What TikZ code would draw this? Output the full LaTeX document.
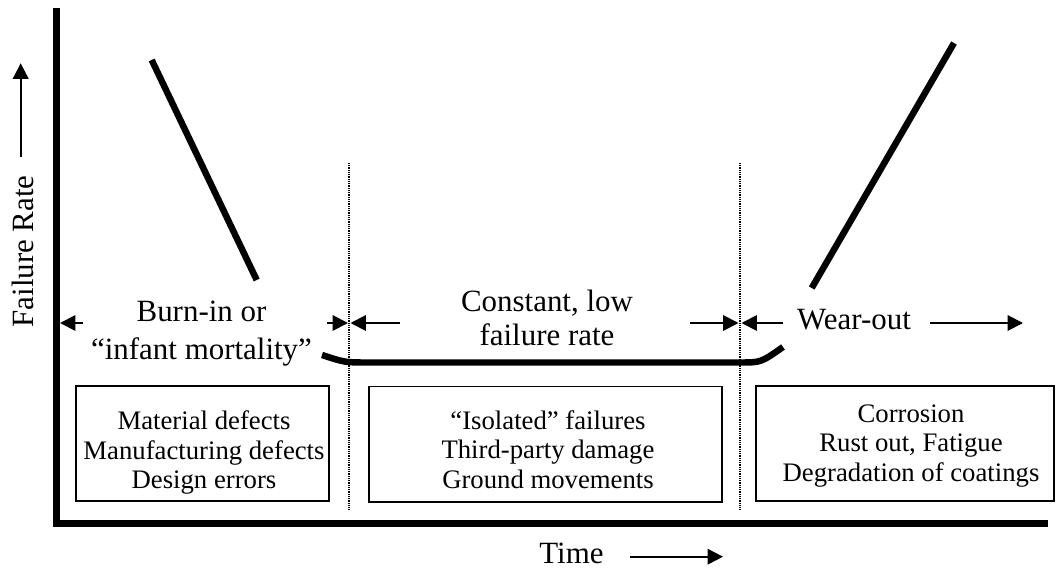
\documentclass[tikz,border=0pt]{standalone}
\usepackage{fontspec}
\setmainfont{Liberation Serif}
\usepackage{tikz}
\usetikzlibrary{arrows.meta, positioning}

\begin{document}
\begin{tikzpicture}[
  x=0.025cm, y=-0.025cm,
  phase/.style={font=\fontsize{22}{27}\selectfont, align=center, inner sep=0pt},
  causebox/.style={rectangle, draw, line width=1.4pt, minimum width=#1, minimum height=2.875cm},
  causetext/.style={font=\fontsize{19}{21}\selectfont, align=center, inner sep=0pt},
  arrow/.style={-{Triangle[length=11pt, width=11pt]}, line width=1.4pt},
  curve/.style={line width=4.6pt},
  divider/.style={line width=0.8pt, dash pattern=on 0.8pt off 0.8pt}
]
  \useasboundingbox (0,0) rectangle (1056,569);

  % axes
  \draw[line width=4.7pt] (56.5,8) -- (56.5,523.5) -- (1048,523.5);

  % phase borders
  \coordinate (d1t) at (349,163);
  \coordinate (d1b) at (349,510);
  \coordinate (d2t) at (740,163);
  \coordinate (d2b) at (740,510);
  \draw[divider] (d1t) -- (d1b);
  \draw[divider] (d2t) -- (d2b);

  % bathtub curve
  \draw[curve] (151.7,60) -- (256.7,280);
  \draw[curve] (954,43) -- (811.7,288);
  \draw[curve] (322,355) .. controls (345,362.5) .. (368,362.5) -- (740,362.5)
    .. controls (761,362.5) .. (783,347);

  % phase labels
  \node[phase] (burn) at (201.5,334) {Burn-in or\\“infant mortality”};
  \node[phase, font=\fontsize{22}{23.7}\selectfont] (const) at (547,317.8) {Constant, low\\failure rate};
  \node[phase, anchor=base] (wear) at (854,330) {Wear-out};
  \node[phase, anchor=base] (time) at (571.5,563) {Time};
  \node[phase, anchor=base, rotate=90] (rate) at (33,251.5) {Failure Rate};

  % phase arrows
  \coordinate (b0) at (83,323);
  \coordinate (b1) at (60,323);
  \coordinate (b2) at (327,323);
  \coordinate (b3) at (348,323);
  \coordinate (c0) at (400,323);
  \coordinate (c1) at (350.5,323);
  \coordinate (c2) at (690,323);
  \coordinate (c3) at (738.5,323);
  \coordinate (w0) at (783,323);
  \coordinate (w1) at (741.5,323);
  \coordinate (w2) at (930,323);
  \coordinate (w3) at (1023,323);
  \draw[arrow] (b0) -- (b1);
  \draw[arrow] (b2) -- (b3);
  \draw[arrow] (c0) -- (c1);
  \draw[arrow] (c2) -- (c3);
  \draw[arrow] (w0) -- (w1);
  \draw[arrow] (w2) -- (w3);

  % axis arrows
  \coordinate (t0) at (630,556.7);
  \coordinate (t1) at (723,556.7);
  \coordinate (r0) at (20.7,156.7);
  \coordinate (r1) at (20.7,63.3);
  \draw[arrow] (t0) -- (t1);
  \draw[arrow] (r0) -- (r1);

  % failure causes
  \node[causebox=6.325cm] (m1) at (202.5,443.5) {};
  \node[causebox=8.825cm] (m2) at (545.8,444) {};
  \node[causebox=7.45cm] (m3) at (905,443.5) {};
  \node[causetext] (t1) at (204,452.5) {Material defects\\Manufacturing defects\\Design errors};
  \node[causetext] (t2) at (548,449.5) {“Isolated” failures\\Third-party damage\\Ground movements};
  \node[causetext] (t3) at (911,446) {Corrosion\\Rust out, Fatigue\\Degradation of coatings};
\end{tikzpicture}
\end{document}
